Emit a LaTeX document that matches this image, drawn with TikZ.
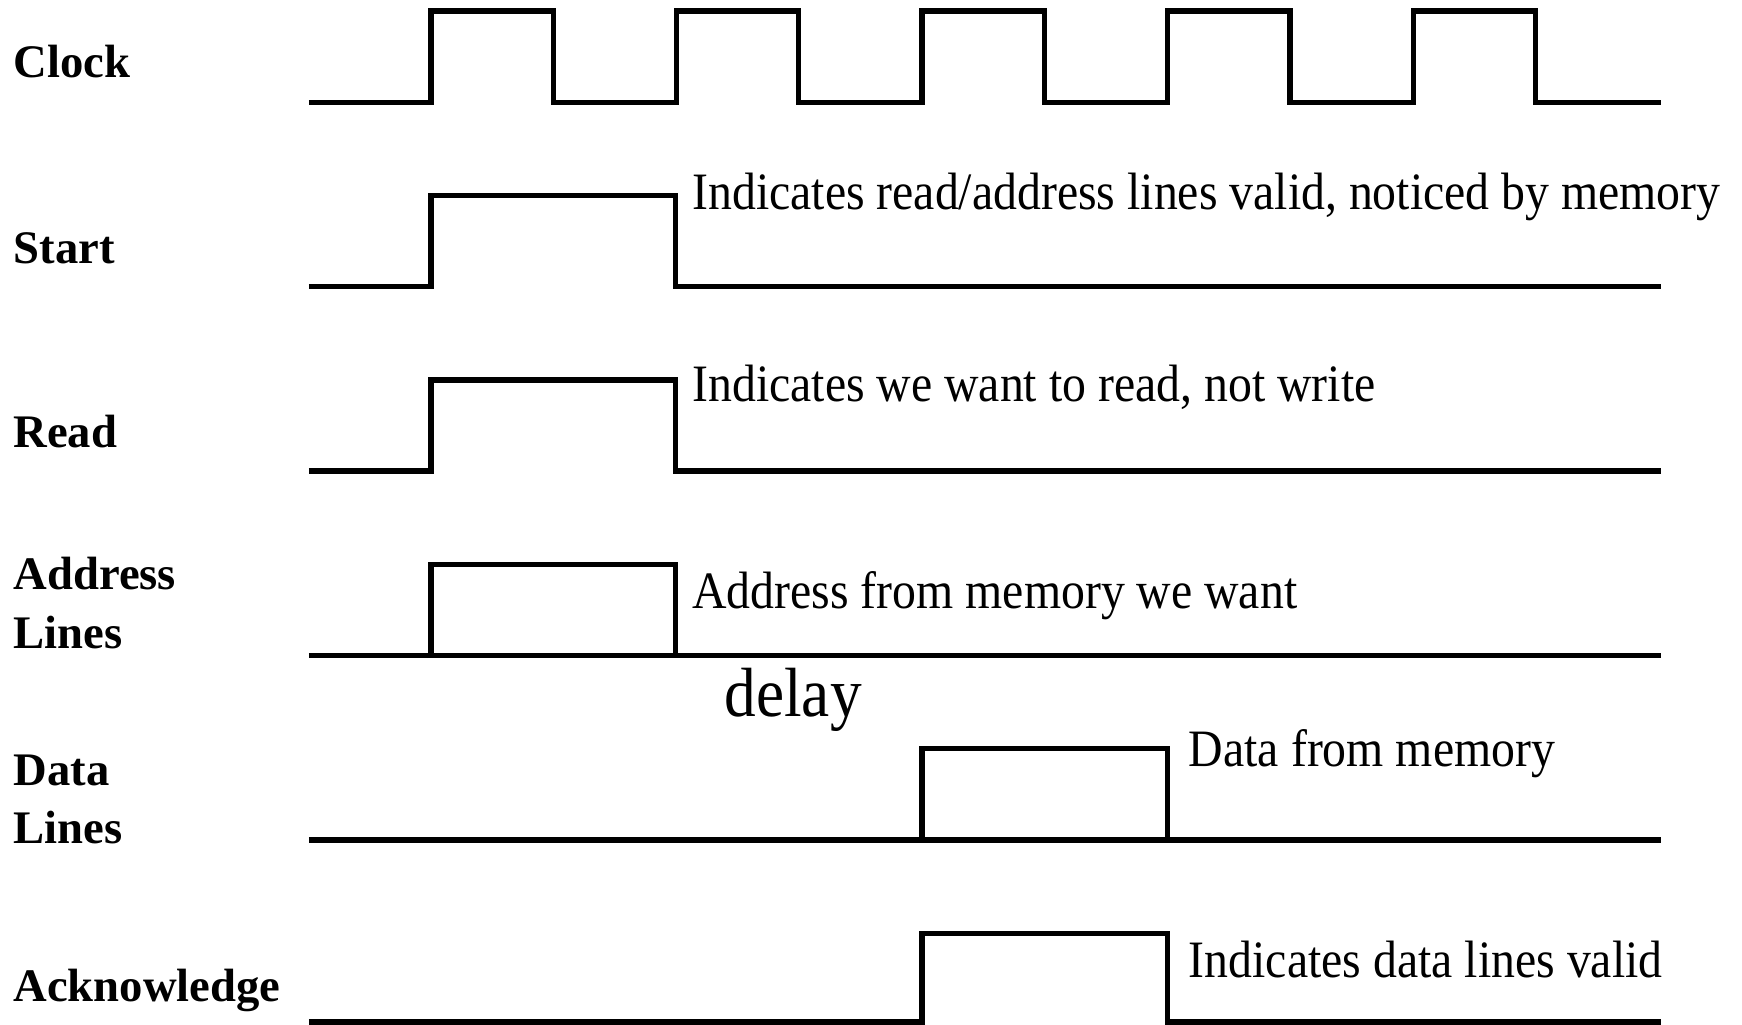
\documentclass[tikz,border=0pt]{standalone}
\usepackage{fontspec}
\setmainfont{Liberation Serif}
\newcommand{\tallnote}[1]{\scalebox{1}[1.1]{#1}}
\begin{document}
\begin{tikzpicture}[x=1pt,y=-1pt,
  wave/.style={line width=4.8pt, line join=miter},
  sig/.style={font=\fontsize{42}{46}\selectfont\bfseries, anchor=base west, inner sep=0pt},
  note/.style={font=\fontsize{43}{48}\selectfont, anchor=base west, inner sep=0pt}]
\useasboundingbox (0,0) rectangle (1568,922);

% signal names
\node[sig] (lclock) at (12,70)  {Clock};
\node[sig] (lstart) at (12,237) {Start};
\node[sig] (lread)  at (12,403) {Read};
\node[sig] (laddr1) at (12,531) {Address};
\node[sig] (laddr2) at (12,584) {Lines};
\node[sig] (ldata1) at (12,707) {Data};
\node[sig] (ldata2) at (12,759) {Lines};
\node[sig] (lack)   at (12,901) {Acknowledge};

% clock
\draw[wave] (278,92) -| (388,10) -| (498,92) -| (609,10) -| (719,92)
  -| (830,10) -| (940,92) -| (1051,10) -| (1161,92) -| (1272,10)
  -| (1382,92) -- (1495,92);

% start
\draw[wave] (278,258) -| (388,176) -| (608,258) -- (1495,258);
\node[note] (nstart) at (623,189) {\tallnote{Indicates read/address lines valid, noticed by memory}};

% read
\draw[wave] (278,424) -| (388,342) -| (608,424) -- (1495,424);
\node[note] (nread) at (623,361) {\tallnote{Indicates we want to read, not write}};

% address lines
\draw[wave] (278,590) -- (1495,590);
\draw[wave] (388,590) rectangle (608,508);
\node[note] (naddr) at (623,548) {\tallnote{Address from memory we want}};

\node[font=\fontsize{57}{62}\selectfont, anchor=base west, inner sep=0pt] (delay) at (652,645) {\tallnote{delay}};

% data lines
\draw[wave] (278,756) -- (1495,756);
\draw[wave] (830,756) rectangle (1051,674);
\node[note] (ndata) at (1070,690) {\tallnote{Data from memory}};

% acknowledge
\draw[wave] (278,920) -| (830,840) -| (1051,920) -- (1495,920);
\node[note] (nack) at (1070,880) {\tallnote{Indicates data lines valid}};
\end{tikzpicture}
\end{document}
